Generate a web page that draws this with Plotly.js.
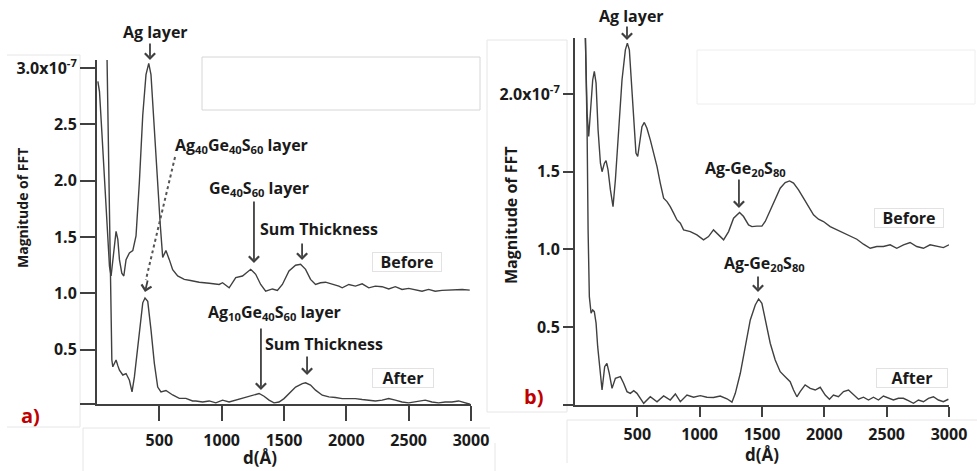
<!DOCTYPE html>
<html>
<head>
<meta charset="utf-8">
<script src="https://cdn.plot.ly/plotly-3.0.1.min.js"></script>
<style>html,body{margin:0;padding:0;background:#fff;}#chart{width:977px;height:471px;}</style>
</head>
<body>
<div id="chart"></div>
<script>
// ---- Panel a) data ----
const aBeforeD = [7,20,39,60,81,100,113,135,153,167,180,199,215,233,260,287,313,340,367,393,415,433,460,487,508,527,540,553,580,607,647,700,750,820,900,980,1007,1060,1113,1167,1233,1273,1313,1353,1407,1447,1487,1540,1593,1633,1673,1713,1753,1793,1833,1887,1940,1967,2020,2073,2127,2180,2233,2287,2340,2393,2447,2500,2553,2607,2660,2713,2767,2820,2873,2930,2990];
const aBeforeY = [2.88,2.79,2.43,1.99,1.54,1.24,1.155,1.39,1.55,1.48,1.30,1.18,1.155,1.30,1.36,1.38,1.51,1.99,2.58,2.94,3.04,2.94,2.43,1.93,1.60,1.32,1.35,1.38,1.30,1.21,1.155,1.125,1.115,1.10,1.09,1.08,1.095,1.05,1.14,1.155,1.214,1.17,1.08,1.02,1.04,1.027,1.08,1.20,1.25,1.259,1.214,1.125,1.08,1.095,1.10,1.085,1.065,1.05,1.08,1.065,1.085,1.05,1.065,1.06,1.04,1.06,1.036,1.045,1.03,1.02,1.036,1.02,1.027,1.03,1.03,1.035,1.03];
const aAfterD = [76,87,92,100,108,119,127,140,153,167,180,207,233,260,281,300,313,340,367,385,407,433,460,487,513,553,607,660,713,767,793,847,900,953,1007,1060,1113,1167,1220,1273,1300,1340,1380,1420,1460,1500,1540,1593,1647,1673,1713,1753,1807,1860,1913,1967,2020,2073,2127,2180,2233,2287,2340,2393,2447,2500,2553,2607,2633,2687,2740,2793,2847,2900,2953,2993];
const aAfterY = [3.4,2.58,1.99,1.39,0.80,0.41,0.35,0.38,0.41,0.36,0.32,0.277,0.29,0.23,0.128,0.26,0.38,0.68,0.917,0.96,0.93,0.68,0.38,0.17,0.128,0.14,0.10,0.07,0.07,0.047,0.047,0.038,0.047,0.03,0.054,0.038,0.054,0.068,0.083,0.098,0.113,0.089,0.054,0.03,0.038,0.068,0.113,0.17,0.20,0.208,0.188,0.143,0.098,0.083,0.078,0.068,0.068,0.068,0.06,0.054,0.047,0.054,0.068,0.054,0.038,0.03,0.038,0.047,0.054,0.038,0.03,0.038,0.038,0.047,0.03,0.018];

// ---- Panel b) data ----
const bBeforeD = [83,97,110,123,142,155,169,185,204,217,236,249,265,284,305,324,350,377,404,420,436,452,471,489,503,516,537,556,577,604,631,658,684,711,738,764,791,818,845,871,925,978,1031,1071,1111,1152,1192,1232,1272,1320,1352,1392,1419,1459,1499,1526,1566,1606,1646,1686,1721,1753,1793,1833,1873,1913,1953,1993,2047,2100,2154,2207,2261,2314,2368,2421,2474,2528,2581,2635,2688,2741,2795,2848,2902,2955,3000];
const bBeforeY = [2.36,1.877,1.727,1.877,2.09,2.145,2.07,1.77,1.555,1.50,1.555,1.572,1.512,1.383,1.276,1.448,1.77,2.09,2.284,2.327,2.284,2.09,1.81,1.62,1.598,1.684,1.79,1.817,1.78,1.705,1.62,1.533,1.427,1.33,1.308,1.276,1.234,1.19,1.169,1.126,1.115,1.094,1.062,1.083,1.126,1.094,1.062,1.115,1.201,1.238,1.212,1.158,1.147,1.15,1.15,1.18,1.255,1.33,1.394,1.43,1.441,1.427,1.383,1.33,1.276,1.223,1.195,1.18,1.147,1.126,1.109,1.083,1.066,1.034,1.008,1.019,1.019,1.03,1.008,1.03,1.045,1.019,1.008,1.03,1.019,1.012,1.03];
const bAfterD = [83,97,105,115,129,142,155,169,182,198,217,238,256,275,297,324,364,390,417,444,471,497,524,551,604,658,711,764,805,845,898,951,1005,1058,1111,1165,1219,1259,1286,1326,1366,1406,1446,1473,1499,1526,1566,1606,1646,1686,1726,1753,1780,1806,1846,1887,1927,1967,2007,2041,2073,2113,2154,2194,2234,2274,2314,2354,2394,2434,2474,2514,2554,2594,2634,2674,2715,2755,2795,2835,2875,2915,2955,2995];
const bAfterY = [2.40,1.77,1.126,0.697,0.59,0.611,0.60,0.526,0.375,0.225,0.0965,0.246,0.268,0.204,0.107,0.172,0.182,0.14,0.086,0.075,0.092,0.075,0.043,0.011,0.053,0.021,0.058,0.032,0.071,0.021,0.064,0.05,0.06,0.05,0.048,0.058,0.04,0.018,0.075,0.204,0.375,0.547,0.643,0.682,0.654,0.547,0.397,0.29,0.214,0.182,0.15,0.0965,0.053,0.086,0.129,0.107,0.0965,0.114,0.064,0.037,0.064,0.053,0.086,0.0965,0.064,0.037,0.05,0.032,0.05,0.032,0.058,0.043,0.032,0.043,0.043,0.028,0.011,0.032,0.021,0.043,0.053,0.032,0.021,0.037];

const xTickVals = [500,1000,1500,2000,2500,3000];
const xTickText = ['500','1000','1500','2000','2500','3000'];
const aYTickVals = [0.02,0.5,1.0,1.5,2.0,2.5,3.0];
const aYTickText = ['','0.5','1.0','1.5','2.0','2.5','3.0x10<sup>-7</sup>'];
const bYTickVals = [0,0.5,1.0,1.5,2.0];
const bYTickText = ['','0.5','1.0','1.5','2.0x10<sup>-7</sup>'];

const LINE = '#404040';
const TXT = '#1a1a1a';
const FONT = 'Open Sans, Noto Sans, sans-serif';

const lineStyle = {color: LINE, width: 1.4};
const traces = [
  {x: aBeforeD, y: aBeforeY, type: 'scatter', mode: 'lines', line: lineStyle, xaxis: 'x', yaxis: 'y', hoverinfo: 'skip'},
  {x: aAfterD, y: aAfterY, type: 'scatter', mode: 'lines', line: lineStyle, xaxis: 'x', yaxis: 'y', hoverinfo: 'skip'},
  {x: bBeforeD, y: bBeforeY, type: 'scatter', mode: 'lines', line: lineStyle, xaxis: 'x2', yaxis: 'y2', hoverinfo: 'skip'},
  {x: bAfterD, y: bAfterY, type: 'scatter', mode: 'lines', line: lineStyle, xaxis: 'x2', yaxis: 'y2', hoverinfo: 'skip'}
];

const tickFont = {family: FONT, size: 16, color: TXT, weight: 'bold'};
function xAxis(dom, anchor, len, standoff) {
  return {domain: dom, range: [0,3000], anchor: anchor, tickvals: xTickVals, ticktext: xTickText,
    ticks: 'outside', ticklen: len, tickwidth: 2, tickcolor: LINE, showline: true, linecolor: LINE, linewidth: 2,
    showgrid: false, zeroline: false, tickfont: tickFont, ticklabelstandoff: standoff, fixedrange: true};
}
function yAxis(dom, anchor, rng, vals, text, len) {
  return {domain: dom, range: rng, anchor: anchor, tickvals: vals, ticktext: text,
    ticks: 'outside', ticklen: len, tickwidth: 2, tickcolor: LINE, showline: true, linecolor: LINE, linewidth: 2,
    showgrid: false, zeroline: false, tickfont: tickFont, fixedrange: true};
}

function label(text, x, y, xref, yref, size, extra) {
  return Object.assign({text: text, x: x, y: y, xref: xref, yref: yref, showarrow: false,
    font: {family: FONT, size: size || 16, color: TXT, weight: 'bold'}, xanchor: 'center', yanchor: 'middle'}, extra || {});
}
function arrow(x, y, xref, yref, ax, ay) {
  return {text: '', x: x, y: y, xref: xref, yref: yref, showarrow: true, ax: ax, ay: ay,
    arrowhead: 4, arrowsize: 1.1, arrowwidth: 1.8, arrowcolor: LINE};
}
function box(text, x, y, xref, yref, w) {
  return label(text, x, y, xref, yref, 16, {bgcolor: '#ffffff', bordercolor: '#e2e2e2', borderwidth: 1, borderpad: 0, width: w, height: 18});
}

const annotations = [
  // panel a
  label('Ag layer', 155/977, 1-32/471, 'paper', 'paper'),
  arrow(425, 3.07, 'x', 'y', 0, -18),
  label('Ag<sub>40</sub>Ge<sub>40</sub>S<sub>60</sub> layer', 1163, 2.316, 'x', 'y'),
  arrow(385, 1.013, 'x', 'y', 3, -13),
  label('Ge<sub>40</sub>S<sub>60</sub> layer', 1298, 1.935, 'x', 'y'),
  arrow(1259, 1.27, 'x', 'y', 0, -63),
  label('Sum Thickness', 1781, 1.571, 'x', 'y'),
  arrow(1645, 1.297, 'x', 'y', 0, -18),
  box('Before', 2486, 1.279, 'x', 'y', 68),
  label('Ag<sub>10</sub>Ge<sub>40</sub>S<sub>60</sub> layer', 1420, 0.827, 'x', 'y'),
  arrow(1315, 0.144, 'x', 'y', 0, -63),
  label('Sum Thickness', 1821, 0.552, 'x', 'y'),
  arrow(1685, 0.277, 'x', 'y', 0, -20),
  box('After', 2454, 0.25, 'x', 'y', 60),
  // panel b
  label('Ag layer', 631/977, 1-16/471, 'paper', 'paper'),
  arrow(417, 2.347, 'x2', 'y2', 0, -15),
  label('Ag-Ge<sub>20</sub>S<sub>80</sub>', 1364, 1.518, 'x2', 'y2'),
  arrow(1315, 1.267, 'x2', 'y2', 0, -30),
  box('Before', 2679, 1.203, 'x2', 'y2', 68),
  label('Ag-Ge<sub>20</sub>S<sub>80</sub>', 1524, 0.913, 'x2', 'y2'),
  arrow(1468, 0.727, 'x2', 'y2', 0, -17),
  box('After', 2703, 0.174, 'x2', 'y2', 70),
  // axis titles
  label('Magnitude of FFT', 22/977, 1-208/471, 'paper', 'paper', 14, {textangle: -90}),
  label('Magnitude of FFT', 511/977, 1-216/471, 'paper', 'paper', 16, {textangle: -90}),
  label('d(Å)', 260/977, 1-457/471, 'paper', 'paper', 17),
  label('d(Å)', 762/977, 1-454/471, 'paper', 'paper', 17),
  // panel letters
  label('a)', 30/977, 1-415/471, 'paper', 'paper', 20, {font: {family: FONT, size: 20, color: '#c00000', weight: 'bold'}}),
  label('b)', 533/977, 1-396/471, 'paper', 'paper', 20, {font: {family: FONT, size: 20, color: '#c00000', weight: 'bold'}})
];

function pl(x0, y0, x1, y1, c) {
  return {type: 'line', xref: 'paper', yref: 'paper', x0: x0/977, y0: 1-y0/471, x1: x1/977, y1: 1-y1/471,
    line: {color: c || '#e6e6e6', width: 1}, layer: 'below'};
}
const shapes = [
  // faint empty text boxes
  {type: 'rect', xref: 'paper', yref: 'paper', x0: 202/977, x1: 480/977, y0: 1-110/471, y1: 1-57/471, line: {color: '#d6d6d6', width: 1}},
  {type: 'rect', xref: 'paper', yref: 'paper', x0: 697/977, x1: 975/977, y0: 1-104/471, y1: 1-50/471, line: {color: '#eeeeee', width: 1}},
  // faint panel frames
  pl(7,55,80,55), pl(80,55,80,427), pl(7,427,80,427),
  pl(83,428,490,428), pl(83,428,83,471),
  pl(487,40,487,412), pl(487,40,567,40), pl(567,40,567,412), pl(487,412,567,412),
  pl(567,420,977,420), pl(567,420,567,463), pl(495,443,495,471),
  // dotted arrow shaft
  {type: 'line', xref: 'x', yref: 'y', x0: 626, y0: 2.21, x1: 392, y1: 1.12, line: {color: '#555555', width: 2, dash: 'dot'}}
];

const layout = {
  width: 977, height: 471, margin: {l: 0, r: 0, t: 0, b: 0},
  paper_bgcolor: '#ffffff', plot_bgcolor: 'rgba(0,0,0,0)', showlegend: false,
  xaxis: xAxis([97/977, 471/977], 'y', 15, 6),
  yaxis: yAxis([1-404/471, 1-60/471], 'x', [0.02, 3.07], aYTickVals, aYTickText, 15),
  xaxis2: xAxis([575/977, 949/977], 'y2', 10, 4),
  yaxis2: yAxis([1-405/471, 1-38/471], 'x2', [0, 2.36], bYTickVals, bYTickText, 10),
  annotations: annotations, shapes: shapes
};

Plotly.newPlot('chart', traces, layout, {staticPlot: true, displayModeBar: false});
</script>
</body>
</html>
